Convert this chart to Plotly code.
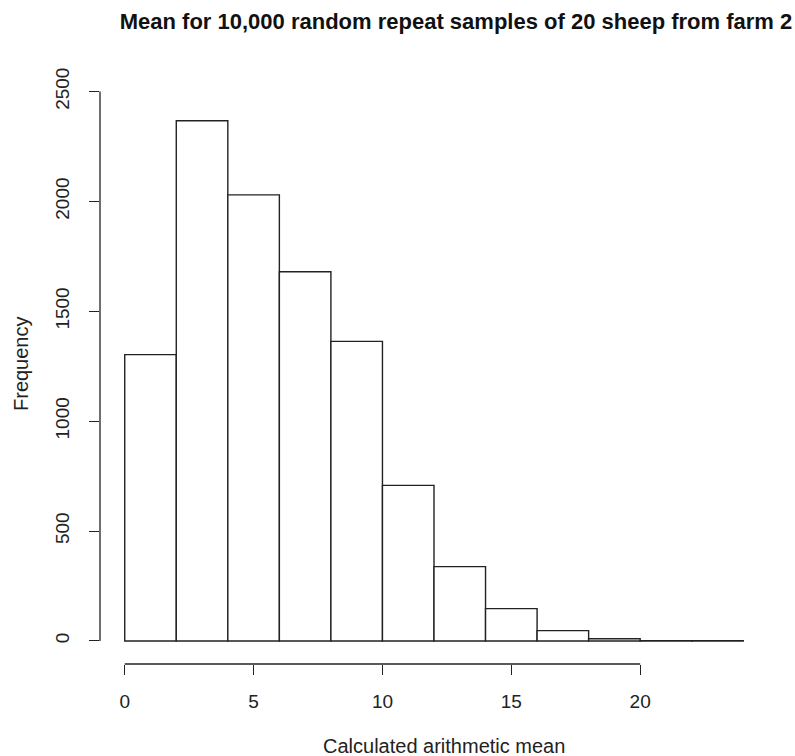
import plotly.graph_objects as go

# Histogram of sample means: bin edges (width 2) and counts per bin
bin_starts = [0, 2, 4, 6, 8, 10, 12, 14, 16, 18, 20, 22]
bin_width = 2
counts = [1303, 2367, 2030, 1680, 1363, 708, 338, 147, 47, 10, 1, 1]

x_ticks = [0, 5, 10, 15, 20]
y_ticks = [0, 500, 1000, 1500, 2000, 2500]

title_text = "Mean for 10,000 random repeat samples of 20 sheep from farm 2"
x_title = "Calculated arithmetic mean"
y_title = "Frequency"

FONT = "Liberation Sans, Arial, sans-serif"
INK = "#222222"
TICK_SIZE = 19
LABEL_SIZE = 20

centers = [s + bin_width / 2 for s in bin_starts]

fig = go.Figure(
    go.Bar(
        x=centers,
        y=counts,
        width=[bin_width] * len(counts),
        marker=dict(color="white", line=dict(color=INK, width=1.4)),
        hoverinfo="x+y",
    )
)

fig.update_layout(
    width=795,
    height=756,
    margin=dict(l=100, r=27, t=41, b=92),
    paper_bgcolor="white",
    plot_bgcolor="white",
    showlegend=False,
    font=dict(family=FONT, color=INK, size=LABEL_SIZE),
    title=dict(
        text="<b>" + title_text + "</b>",
        x=456 / 795,
        xanchor="center",
        xref="container",
        y=1 - 21 / 756,
        yanchor="middle",
        font=dict(family=FONT, size=22, color="#111111"),
    ),
    xaxis=dict(
        range=[-0.96, 24.96],
        showgrid=False,
        zeroline=False,
        showline=False,
        tickvals=x_ticks,
        ticks="outside",
        ticklen=10,
        tickwidth=1.3,
        tickcolor=INK,
        ticklabelstandoff=10,
        tickfont=dict(size=TICK_SIZE, color=INK),
    ),
    yaxis=dict(
        range=[-105, 2730],
        showgrid=False,
        zeroline=False,
        showline=False,
        tickvals=y_ticks,
        ticks="outside",
        ticklen=10,
        tickwidth=1.3,
        tickcolor=INK,
        tickangle=-90,
        ticklabelstandoff=12,
        tickfont=dict(size=TICK_SIZE, color=INK),
    ),
)

# Detached axis lines spanning only the first to last tick
fig.add_shape(type="line", xref="x", yref="paper",
              x0=x_ticks[0], x1=x_ticks[-1], y0=0, y1=0,
              line=dict(color=INK, width=1.3))
fig.add_shape(type="line", xref="paper", yref="y",
              x0=0, x1=0, y0=y_ticks[0], y1=y_ticks[-1],
              line=dict(color=INK, width=1.3))

# Axis titles
fig.add_annotation(text=x_title, xref="paper", yref="paper",
                   x=(444 - 100) / (768 - 100), y=-(746 - 664) / (664 - 41),
                   xanchor="center", yanchor="middle", showarrow=False,
                   font=dict(size=LABEL_SIZE, color=INK))
fig.add_annotation(text=y_title, xref="paper", yref="paper",
                   x=-(100 - 21) / (768 - 100), y=(664 - 364) / (664 - 41),
                   xanchor="center", yanchor="middle", textangle=-90,
                   showarrow=False, font=dict(size=LABEL_SIZE, color=INK))

fig.write_html("out.html")
